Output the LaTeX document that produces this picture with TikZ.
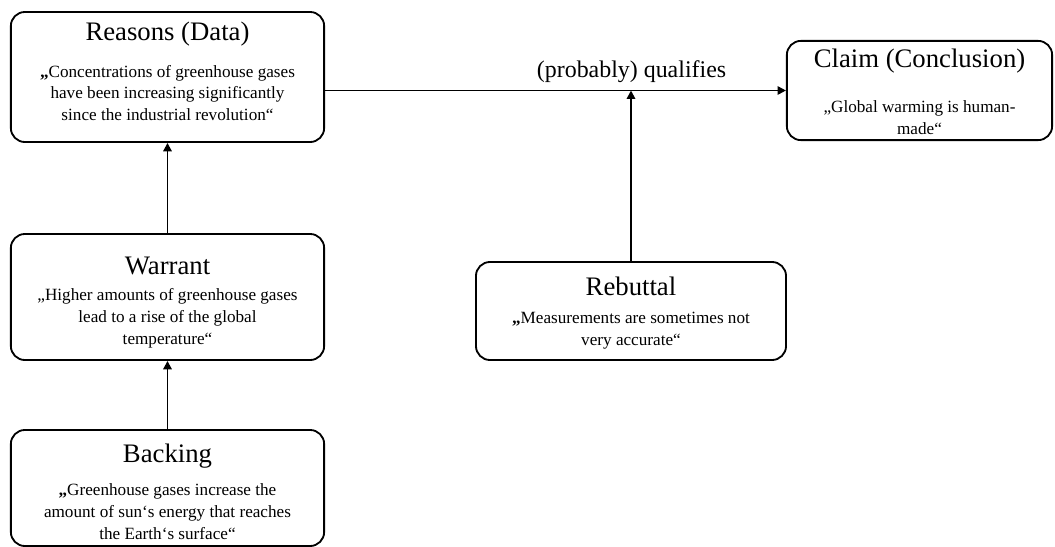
\documentclass[tikz,border=0pt]{standalone}
\usepackage{fontspec}
\setmainfont{Liberation Serif}
\usetikzlibrary{arrows.meta,positioning}

\begin{document}
\begin{tikzpicture}[x=0.025cm,y=-0.025cm,
  box/.style={draw, line width=1.3pt, rounded corners=0.35cm, inner sep=0pt},
  head/.style={font=\fontsize{19}{23}\selectfont, inner sep=0pt},
  body/.style={font=\fontsize{12.2}{15.6}\selectfont, align=center, inner sep=0pt},
  arr/.style={-{Triangle[length=6pt,width=6pt]}, line width=1.3pt}]

  \useasboundingbox (0,0) rectangle (1055,547);

  % Reasons (Data)
  \node[box, minimum width=7.83cm, minimum height=3.25cm] (reasons) at (167.5,77) {};
  \node[head] (reasonsHead) at (167.5,34) {Reasons (Data)};
  \node[body] (reasonsBody) at (167.5,93) {{\bfseries „}Concentrations of greenhouse gases\\
    have been increasing significantly\\ since the industrial revolution“};

  % Claim (Conclusion)
  \node[box, minimum width=6.63cm, minimum height=2.48cm] (claim) at (919.5,90.5) {};
  \node[head] (claimHead) at (919.5,61) {Claim (Conclusion)};
  \node[body] (claimBody) at (919.5,118) {„Global warming is human-\\ made“};

  % Warrant
  \node[box, minimum width=7.83cm, minimum height=3.15cm] (warrant) at (167.5,297) {};
  \node[head] (warrantHead) at (167.5,266) {Warrant};
  \node[body] (warrantBody) at (167.5,318) {„Higher amounts of greenhouse gases\\
    lead to a rise of the global\\ temperature“};

  % Rebuttal
  \node[box, minimum width=7.75cm, minimum height=2.45cm] (rebuttal) at (631,311) {};
  \node[head] (rebuttalHead) at (631,286) {Rebuttal};
  \node[body] (rebuttalBody) at (631,331) {{\bfseries „}Measurements are sometimes not\\ very accurate“};

  % Backing
  \node[box, minimum width=7.83cm, minimum height=2.9cm] (backing) at (167.5,488) {};
  \node[head] (backingHead) at (167.5,456) {Backing};
  \node[body] (backingBody) at (167.5,512) {{\bfseries „}Greenhouse gases increase the\\
    amount of sun‘s energy that reaches\\ the Earth‘s surface“};

  % Arrows
  \draw[arr] (reasons.east |- claim.west) -- (claim.west)
    node[pos=0.665, above=5pt, font=\fontsize{17}{20}\selectfont, inner sep=0pt] (qualLabel) {(probably) qualifies};
  \draw[arr] (rebuttal.north) -- (rebuttal.north |- claim.west);
  \draw[arr] (warrant.north) -- (reasons.south);
  \draw[arr] (backing.north) -- (warrant.south);

\end{tikzpicture}
\end{document}
